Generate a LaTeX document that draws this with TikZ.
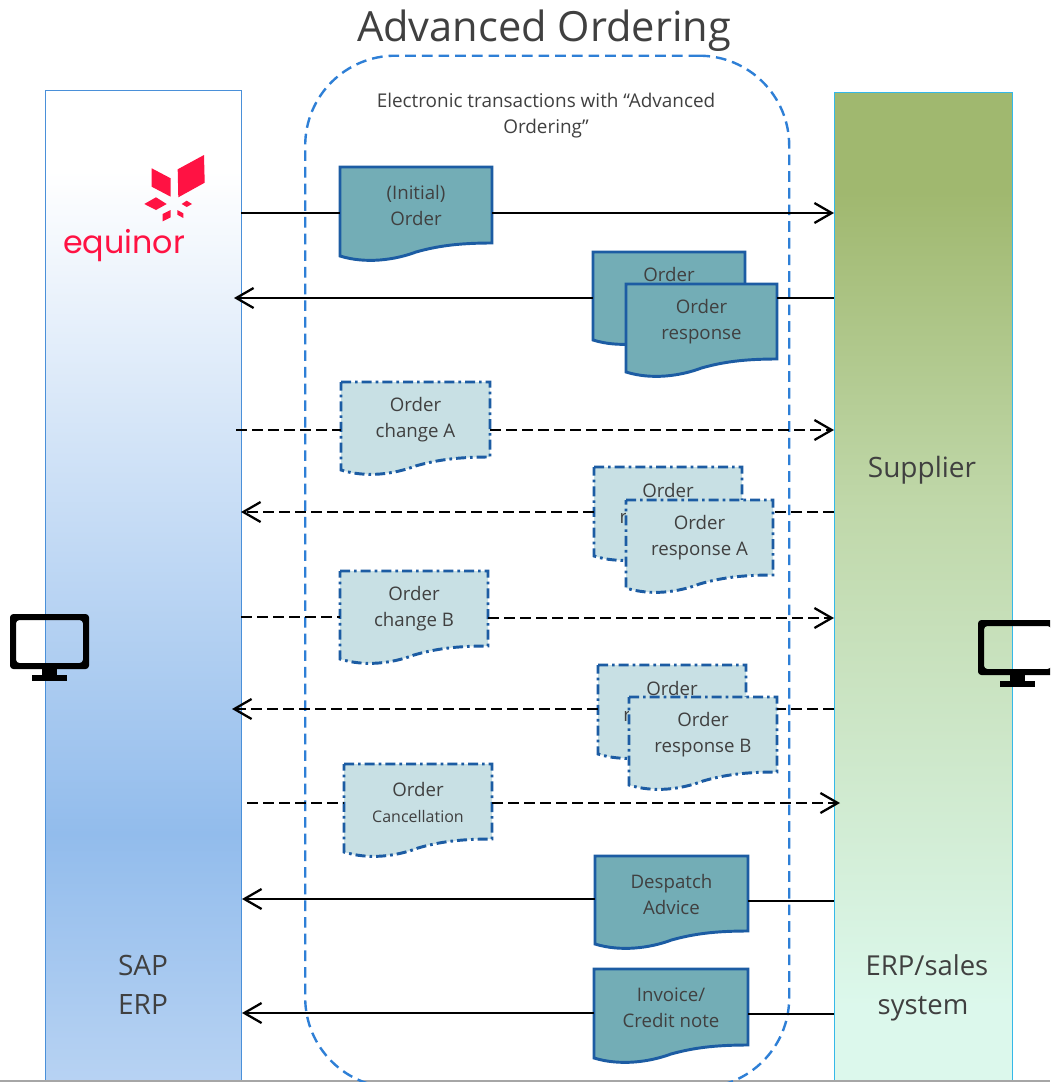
\documentclass[tikz,border=0pt]{standalone}
\usepackage{fontspec}
\setmainfont{Open Sans}
\newfontfamily\logofont{Poppins}
\usetikzlibrary{arrows.meta}
\definecolor{txt}{HTML}{404040}
\definecolor{docdark}{HTML}{73ADB6}
\definecolor{doclight}{HTML}{C8E0E4}
\definecolor{docedge}{HTML}{1C5CA3}
\definecolor{blob}{HTML}{2E7FD6}
\definecolor{sapedge}{HTML}{4A90D9}
\definecolor{supedge}{HTML}{34B8E8}
\definecolor{logored}{HTML}{FF1243}
\definecolor{sa}{HTML}{B8D3F3}
\definecolor{sb}{HTML}{92BCEC}
\definecolor{sc}{HTML}{FFFFFF}
\definecolor{ra}{HTML}{DCF8EC}
\definecolor{rb}{HTML}{C0D8AA}
\definecolor{rc}{HTML}{A0B86F}
% 25bp = bottom of the panel, 75bp = top
\pgfdeclareverticalshading{sapgrad}{100bp}{color(0bp)=(sa); color(25bp)=(sa); color(37.7bp)=(sb); color(71bp)=(sc); color(100bp)=(sc)}
\pgfdeclareverticalshading{supgrad}{100bp}{color(0bp)=(ra); color(29bp)=(ra); color(54bp)=(rb); color(70bp)=(rc); color(100bp)=(rc)}
\tikzset{
  x=0.75pt, y=-0.75pt,
  darkdoc/.style={draw=docedge, fill=docdark, line width=2.2pt},
  lightdoc/.style={draw=docedge, fill=doclight, line width=2.2pt, dash pattern=on 7.5pt off 3pt on 2pt off 3pt},
  doctext/.style={inner sep=0pt, text=txt, align=center, font=\fontsize{14}{19.5}\selectfont},
  paneltext/.style={inner sep=0pt, text=txt, align=center, font=\fontsize{21}{29}\selectfont},
  solidconn/.style={draw=black, line width=2.1pt},
  dashconn/.style={draw=black, line width=1.9pt, dash pattern=on 8pt off 4pt},
  tip/.style={-{Straight Barb[length=13pt,width=15pt,line width=1.7pt]}},
  monitorshape/.style={fill=black, even odd rule},
  logoshape/.style={fill=logored},
}
% name, style, left, top, right, y at right end of the wave, text
\newcommand{\docnode}[7]{%
  \path[#2] (#3,#4) -- (#5,#4) -- (#5,#6)
    .. controls ({#5-0.22*(#5-#3)},#6) and ({#5-0.36*(#5-#3)},{#6+3}) .. ({#3+0.5*(#5-#3)},{#6+9})
    .. controls ({#3+0.36*(#5-#3)},{#6+17}) and ({#3+0.17*(#5-#3)},{#6+21}) .. (#3,{#6+13}) -- cycle;
  \node[doctext, minimum width={(#5-#3)*0.75pt}, minimum height={(#6-#4)*0.75pt}] (#1) at ({(#3+#5)/2},{(#4+#6)/2+0.5}) {#7};%
}
\newcommand{\monitor}[2]{%
  \begin{scope}[shift={(#1,#2)}]
    \path[monitorshape, rounded corners=2.5pt] (10,614) rectangle (89,669) (16,620) rectangle (83,663);
    \fill (42,668) rectangle (57,676);
    \fill (32,675) rectangle (67,681);
  \end{scope}%
}
\begin{document}
\begin{tikzpicture}
\useasboundingbox (0,0) rectangle (1050,1082);
\clip (0,0) rectangle (1050,1082);
\fill[white] (0,0) rectangle (1050,1082);

% panels
\node[draw=sapedge, line width=0.8pt, shading=sapgrad, anchor=north west, inner sep=0pt, minimum width=147pt, minimum height=747pt] (sap) at (44.5,90) {};
\node[draw=supedge, line width=0.8pt, shading=supgrad, anchor=north west, inner sep=0pt, minimum width=133.5pt, minimum height=745pt] (supplier) at (833.5,91.5) {};
\draw[gray!70, line width=1pt] (0,1081) -- (1050,1081);

% dashed rounded frame
\node[draw=blob, line width=1.8pt, dash pattern=on 8pt off 4.5pt, rounded corners=67.5pt, anchor=north west, inner sep=0pt, minimum width=363pt, minimum height=774pt] (frame) at (304,54.5) {};

% texts
\node[inner sep=0pt, text=txt, font=\fontsize{31.2}{36}\selectfont] (title) at (544,31) {Advanced Ordering};
\node[inner sep=0pt, text=txt, align=center, font=\fontsize{14.2}{19.5}\selectfont] (frametext) at (546,116) {Electronic transactions with “Advanced\\Ordering”};
\node[paneltext] (suppliertext) at (922,470) {Supplier};
\node[paneltext] (saptext) at (143,985) {SAP\\ERP};
\node[paneltext, font=\fontsize{20.6}{29}\selectfont] (erptext) at (923,988) {\hspace*{6pt}ERP/sales\\system};

% logo
\path[logoshape] (177.7,169.3) -- (204,155) -- (204.7,182.7) -- (178.3,197.3) -- cycle;
\path[logoshape] (151.7,168.3) -- (170.7,178.3) -- (170.7,196.7) -- (151.7,186.7) -- cycle;
\path[logoshape] (144.3,204) -- (156,197.3) -- (166.7,204) -- (156,210) -- cycle;
\path[logoshape] (181.7,204) -- (186.7,200.7) -- (192,204) -- (186.7,207) -- cycle;
\path[logoshape] (162.7,214) -- (170.7,210) -- (170.7,217.3) -- (162.7,221.3) -- cycle;
\path[logoshape] (177.3,210) -- (183.3,213.3) -- (183.3,218) -- (177.3,214.7) -- cycle;
\node[inner sep=0pt, text=logored, font=\logofont\fontsize{23.8}{24}\selectfont] (equinor) at (124,246) {equinor};

% connector ends
\coordinate (a1) at (241,213);  \coordinate (b1) at (834,213);
\coordinate (a2) at (834,298);  \coordinate (b2) at (234,298);
\coordinate (a3) at (236,430);  \coordinate (b3) at (834,430);
\coordinate (a4) at (834,512);  \coordinate (b4) at (241,512);
\coordinate (a5) at (241,617);  \coordinate (b5) at (834,618);
\coordinate (a6) at (834,709);  \coordinate (b6) at (232,709);
\coordinate (a7) at (247,803);  \coordinate (b7) at (840,803);
\coordinate (a8) at (834,901);  \coordinate (b8) at (242,899);
\coordinate (a9) at (834,1014); \coordinate (b9) at (242,1013);

% documents
\docnode{d1}{darkdoc}{340}{167}{492}{243}{(Initial)\\Order}
\docnode{d2back}{darkdoc}{593}{252}{745}{327}{Order\\response}
\docnode{d2}{darkdoc}{626}{284}{777}{359}{Order\\response}
\docnode{d3}{lightdoc}{341}{382}{490}{457}{Order\\change A}
\docnode{d4back}{lightdoc}{594}{467}{742}{543}{Order\\response A}
\docnode{d4}{lightdoc}{626}{500}{773}{575}{Order\\response A}
\docnode{d5}{lightdoc}{340}{571}{488}{646}{Order\\change B}
\docnode{d6back}{lightdoc}{598}{665}{746}{741}{Order\\response B}
\docnode{d6}{lightdoc}{629}{697}{777}{772}{Order\\response B}
\docnode{d7}{lightdoc}{344}{764}{492}{839}{Order\\{\fontsize{12}{19.5}\selectfont Cancellation}}
\docnode{d8}{darkdoc}{595}{856}{748}{931}{Despatch\\Advice}
\docnode{d9}{darkdoc}{594}{969}{748}{1045}{Invoice/\\Credit note}

% connectors
\draw[solidconn] (a1) -- (d1.west |- a1);
\draw[solidconn, tip] (d1.east |- b1) -- (b1);
\draw[solidconn] (a2) -- (d2.east |- a2);
\draw[solidconn, tip] (d2back.west |- b2) -- (b2);
\draw[dashconn] (a3) -- (d3.west |- a3);
\draw[dashconn, tip] (d3.east |- b3) -- (b3);
\draw[dashconn] (a4) -- (d4.east |- a4);
\draw[dashconn, tip] (d4back.west |- b4) -- (b4);
\draw[dashconn] (a5) -- (d5.west |- a5);
\draw[dashconn, tip] (d5.east |- b5) -- (b5);
\draw[dashconn] (a6) -- (d6.east |- a6);
\draw[dashconn, tip] (d6back.west |- b6) -- (b6);
\draw[dashconn] (a7) -- (d7.west |- a7);
\draw[dashconn, tip] (d7.east |- b7) -- (b7);
\draw[solidconn] (a8) -- (d8.east |- a8);
\draw[solidconn, tip] (d8.west |- b8) -- (b8);
\draw[solidconn] (a9) -- (d9.east |- a9);
\draw[solidconn, tip] (d9.west |- b9) -- (b9);

% monitors
\monitor{0}{0}
\monitor{968}{6}
\end{tikzpicture}
\end{document}
